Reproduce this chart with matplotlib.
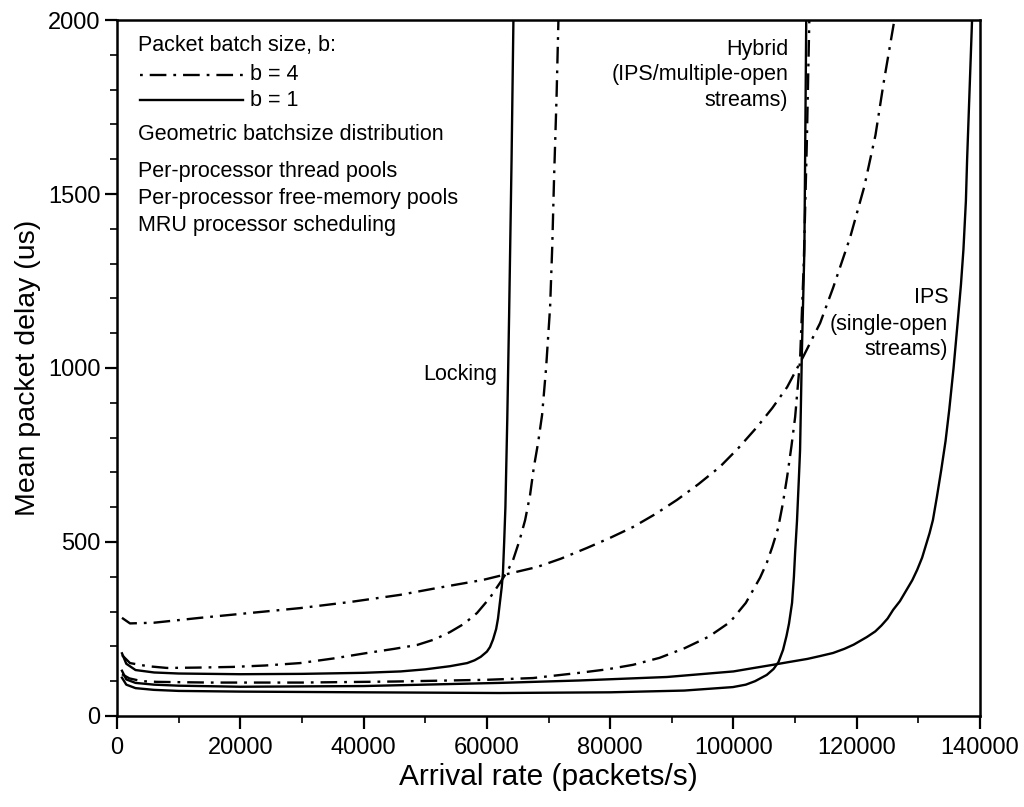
import matplotlib
matplotlib.use("Agg")
import matplotlib.pyplot as plt
from matplotlib.ticker import MultipleLocator

plt.rcParams['font.family'] = ['Liberation Sans', 'DejaVu Sans']
plt.rcParams['lines.scale_dashes'] = False

# arrival rate (packets/s) vs mean packet delay (us)
lock_b1_x = [800, 1500, 3000, 6000, 10000, 20000, 30000, 40000, 46000, 50000, 54000,
             56800, 58000, 59000, 60000, 60500, 61000, 61500, 61800, 62100, 62400,
             62600, 62800, 63000, 63300, 63600, 64000, 64300]
lock_b1_y = [180, 150, 132, 125, 122, 120, 121, 124, 128, 134, 143,
             152, 160, 170, 185, 198, 220, 250, 280, 325, 370,
             411, 500, 600, 850, 1150, 1600, 2000]

lock_b4_x = [800, 2100, 5000, 8100, 13000, 18800, 24000, 29700, 35000, 40550, 45000,
             48670, 51500, 54000, 56300, 58400, 60500, 62100, 63300, 64240, 65300,
             66200, 67000, 67600, 68300, 68950, 69600, 70250, 70600, 70900, 71300, 71600]
lock_b4_y = [175, 152, 143, 138, 139, 141, 145, 152, 165, 181, 193,
             204, 220, 241, 265, 296, 340, 382, 415, 448, 505,
             563, 635, 713, 785, 865, 1000, 1175, 1350, 1550, 1780, 2000]

hyb_b1_x = [800, 1500, 3000, 6000, 10000, 20000, 40000, 62000, 80000, 92000, 99900,
            102000, 103500, 105400, 106500, 107300, 108040, 108600, 109000, 109500,
            109800, 110000, 110300, 110600, 110800, 111100, 111500, 111800]
hyb_b1_y = [110, 90, 80, 75, 72, 70, 68, 66, 68, 73, 83,
            90, 100, 118, 135, 155, 190, 230, 265, 325,
            400, 470, 560, 680, 764, 1050, 1340, 2000]

hyb_b4_x = [800, 2000, 4000, 6500, 15000, 30000, 45000, 60000, 67500, 75000, 79500,
            83700, 88000, 92100, 96000, 99450, 102000, 104300, 105400, 106300, 107240,
            108000, 108700, 109400, 110000, 110800, 111400, 111900, 112300]
hyb_b4_y = [120, 108, 100, 98, 96, 96, 99, 104, 109, 124, 134,
            147, 167, 195, 228, 270, 325, 397, 440, 486, 540,
            610, 687, 775, 859, 1023, 1300, 1650, 2000]

ips_b1_x = [800, 1500, 3000, 6000, 10000, 20000, 40000, 62000, 75000, 89200, 100000,
            103000, 106400, 109000, 112000, 114000, 116150, 118000, 119500, 121650,
            123000, 124000, 125000, 125900, 127000, 128000, 129000, 129800, 130600,
            131200, 131800, 132350, 133000, 133700, 134400, 135000, 135700, 136400,
            136900, 137300, 137700, 137900, 138300, 138700]
ips_b1_y = [130, 105, 95, 90, 87, 84, 86, 95, 102, 112, 128,
            137, 147, 155, 164, 172, 181, 193, 205, 227,
            243, 260, 280, 305, 330, 360, 390, 420, 455,
            490, 525, 563, 630, 707, 790, 880, 1000, 1138,
            1240, 1340, 1480, 1600, 1800, 2000]

ips_b4_x = [800, 2100, 6000, 13460, 21000, 29700, 38000, 45900, 52000, 59370, 62600,
            68130, 72000, 76250, 80000, 83700, 87300, 90840, 94300, 97800, 100800,
            103800, 106300, 108700, 111300, 114050, 116150, 118900, 121200, 123030,
            124350, 126100]
ips_b4_y = [282, 266, 268, 282, 295, 310, 328, 348, 368, 391, 405,
            428, 452, 483, 512, 543, 580, 621, 666, 716, 770,
            830, 885, 945, 1032, 1129, 1230, 1374, 1520, 1669,
            1819, 2000]

dashdot = (12, 5, 2, 5)
lw = 1.7

fig = plt.figure(figsize=(10.24, 8.07), dpi=100)
ax = fig.add_axes([0.1143, 0.1128, 0.8428, 0.8624])

for xs, ys in [(lock_b1_x, lock_b1_y), (hyb_b1_x, hyb_b1_y), (ips_b1_x, ips_b1_y)]:
    ax.plot(xs, ys, color='k', lw=lw)
for xs, ys in [(lock_b4_x, lock_b4_y), (hyb_b4_x, hyb_b4_y), (ips_b4_x, ips_b4_y)]:
    ax.plot(xs, ys, color='k', lw=lw, dashes=dashdot)

ax.set_xlim(0, 140000)
ax.set_ylim(0, 2000)
ax.xaxis.set_major_locator(MultipleLocator(20000))
ax.xaxis.set_minor_locator(MultipleLocator(10000))
ax.yaxis.set_major_locator(MultipleLocator(500))
ax.yaxis.set_minor_locator(MultipleLocator(100))
ax.tick_params(which='major', direction='out', length=9, width=1.6,
               top=False, right=False, labelsize=17)
ax.tick_params(axis='x', which='major', pad=6)
ax.tick_params(axis='y', which='major', pad=3)
ax.tick_params(which='minor', direction='out', length=5, width=1.2,
               top=False, right=False)
for sp in ax.spines.values():
    sp.set_linewidth(1.8)

ax.set_xlabel('Arrival rate (packets/s)', fontsize=21.5, labelpad=3)
ax.set_ylabel('Mean packet delay (us)', fontsize=20.5, labelpad=5)

# key and run conditions, top left
fs = 15.5
tx = 0.0243
ax.text(tx, 0.964, 'Packet batch size, b:', transform=ax.transAxes, fontsize=fs, va='center')
ax.plot([0.0267, 0.146], [0.921, 0.921], transform=ax.transAxes, color='k', lw=lw,
        dashes=(2, 5, 12, 5))
ax.text(0.154, 0.921, 'b = 4', transform=ax.transAxes, fontsize=fs, va='center')
ax.plot([0.0267, 0.146], [0.885, 0.885], transform=ax.transAxes, color='k', lw=lw)
ax.text(0.154, 0.885, 'b = 1', transform=ax.transAxes, fontsize=fs, va='center')
ax.text(tx, 0.835, 'Geometric batchsize distribution', transform=ax.transAxes,
        fontsize=fs, va='center')
ax.text(tx, 0.782, 'Per-processor thread pools', transform=ax.transAxes,
        fontsize=fs, va='center')
ax.text(tx, 0.743, 'Per-processor free-memory pools', transform=ax.transAxes,
        fontsize=fs, va='center')
ax.text(tx, 0.705, 'MRU processor scheduling', transform=ax.transAxes,
        fontsize=fs, va='center')

# curve labels
ax.text(0.4403, 0.490, 'Locking', transform=ax.transAxes, fontsize=fs,
        ha='right', va='center')
for y, s in zip([0.957, 0.921, 0.885], ['Hybrid', '(IPS/multiple-open', 'streams)']):
    ax.text(0.7775, y, s, transform=ax.transAxes, fontsize=fs, ha='right', va='center')
for y, s in zip([0.602, 0.563, 0.526], ['IPS', '(single-open', 'streams)']):
    ax.text(0.963, y, s, transform=ax.transAxes, fontsize=fs, ha='right', va='center')

fig.savefig('out.png', dpi=100)
